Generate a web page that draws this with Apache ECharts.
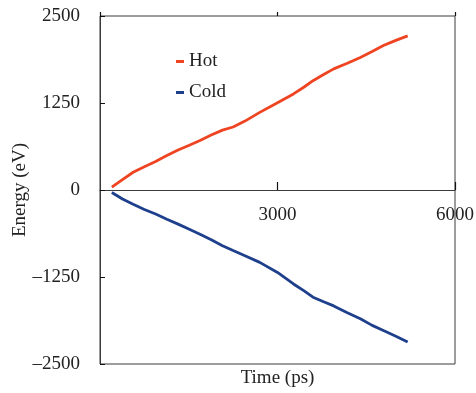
<!DOCTYPE html>
<html><head><meta charset="utf-8">
<script src="https://cdn.jsdelivr.net/npm/echarts@6/dist/echarts.min.js"></script>
<style>html,body{margin:0;padding:0;background:#fff}#c{width:476px;height:393px}</style>
</head><body><div id="c"></div>
<script>
var seriesNames = ['Hot', 'Cold'];
var hotTime  = [200, 380, 560, 750, 940, 1130, 1320, 1500, 1690, 1880, 2070, 2250, 2450, 2700, 3000, 3270, 3450, 3600, 3780, 3950, 4180, 4400, 4600, 4790, 5000, 5200];
var hotE     = [40, 150, 255, 335, 410, 495, 575, 640, 710, 790, 860, 905, 990, 1115, 1255, 1380, 1480, 1570, 1660, 1740, 1820, 1905, 1990, 2075, 2150, 2215];
var coldTime = [200, 380, 560, 750, 940, 1130, 1320, 1500, 1690, 1880, 2070, 2250, 2450, 2700, 3000, 3270, 3450, 3600, 3780, 3950, 4180, 4400, 4600, 4790, 5000, 5200];
var coldE    = [-35, -130, -205, -280, -345, -420, -490, -560, -635, -715, -800, -870, -945, -1040, -1185, -1350, -1450, -1540, -1605, -1665, -1765, -1850, -1945, -2020, -2100, -2185];
var yTicks = [-2500, -1250, 0, 1250, 2500];
var xTicks = [0, 3000, 6000];

function pairs(xs, ys){ return xs.map(function(x,i){ return [x, ys[i]]; }); }
var serif = 'Liberation Serif';
var dark = '#3a3a3a';
var chart = echarts.init(document.getElementById('c'));
chart.setOption({
  animation: false,
  backgroundColor: '#fff',
  grid: { left: 100, right: 21, top: 16, bottom: 29, show: true, borderColor: dark, borderWidth: 1, outerBoundsMode: 'none', containLabel: false },
  legend: {
    orient: 'vertical', left: 171, top: 47, itemGap: 12,
    itemWidth: 8, itemHeight: 3, icon: 'rect',
    textStyle: { fontFamily: serif, fontSize: 19, color: '#222' },
    data: seriesNames
  },
  xAxis: [{
    type: 'value', min: xTicks[0], max: xTicks[2], interval: xTicks[1] - xTicks[0],
    axisLine: { onZero: true, lineStyle: { color: dark, width: 1 } },
    axisTick: { inside: true, length: 8, lineStyle: { color: '#111', width: 1.2 } },
    axisLabel: { showMinLabel: false, margin: -158, fontFamily: serif, fontSize: 19, color: '#222',
      formatter: function(v){ return String(v); } },
    splitLine: { show: false }
  }, {
    type: 'value', min: xTicks[0], max: xTicks[2], interval: xTicks[1] - xTicks[0],
    axisLine: { onZero: true, show: false },
    axisTick: { inside: false, length: 4, lineStyle: { color: '#111', width: 1.2 } },
    axisLabel: { show: false }, splitLine: { show: false }
  }, {
    type: 'value', min: xTicks[0], max: xTicks[2], position: 'bottom',
    axisLine: { onZero: false, show: false }, axisTick: { show: false }, axisLabel: { show: false }, splitLine: { show: false },
    name: 'Time (ps)', nameLocation: 'middle', nameGap: 5,
    nameTextStyle: { fontFamily: serif, fontSize: 19, color: '#222', verticalAlign: 'top' }
  }],
  yAxis: {
    type: 'value', min: yTicks[0], max: yTicks[4], interval: yTicks[1] - yTicks[0],
    axisLine: { show: true, lineStyle: { color: dark, width: 1 } },
    axisTick: { show: true, inside: true, length: 5, lineStyle: { color: '#111', width: 1 } },
    axisLabel: { margin: 20, fontFamily: serif, fontSize: 19, color: '#222',
      formatter: function(v){ return String(v).replace('-', '\u2013'); } },
    splitLine: { show: false },
    name: 'Energy (eV)', nameLocation: 'middle', nameGap: 70, nameRotate: 90, nameMoveOverlap: false,
    nameTextStyle: { fontFamily: serif, fontSize: 19, color: '#222' }
  },
  series: [
    { name: 'Hot', type: 'line', showSymbol: false, data: pairs(hotTime, hotE),
      lineStyle: { color: '#EE4422', width: 2.8 }, itemStyle: { color: '#EE4422' } },
    { name: 'Cold', type: 'line', showSymbol: false, data: pairs(coldTime, coldE),
      lineStyle: { color: '#1E3F8C', width: 2.8 }, itemStyle: { color: '#1E3F8C' } }
  ]
});
</script></body></html>
